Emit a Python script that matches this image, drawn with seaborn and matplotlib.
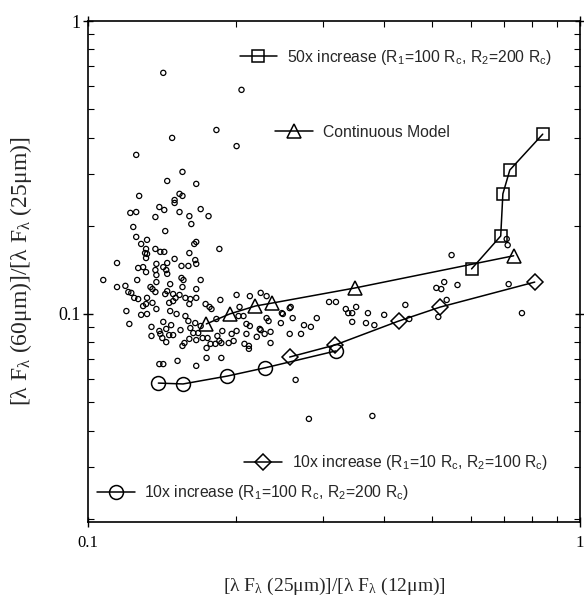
import numpy as np
import matplotlib
matplotlib.use("Agg")
from matplotlib import pyplot as plt
from matplotlib.lines import Line2D
from matplotlib.legend import Legend
from matplotlib.ticker import FixedLocator, LogLocator, NullFormatter, FuncFormatter
import seaborn as sns

sns.set_style("ticks")
plt.rcParams["font.family"] = ["Liberation Serif", "DejaVu Serif"]
plt.rcParams["mathtext.default"] = "regular"

# model tracks (linear colour ratios)
cont_x = [0.174, 0.194, 0.219, 0.237, 0.349, 0.733]
cont_y = [0.0925, 0.100, 0.1065, 0.109, 0.1227, 0.158]
sq_x = [0.602, 0.690, 0.697, 0.720, 0.840]
sq_y = [0.1425, 0.1846, 0.257, 0.310, 0.411]
dia_x = [0.257, 0.318, 0.428, 0.520, 0.809]
dia_y = [0.0713, 0.0784, 0.0946, 0.1056, 0.1285]
circ_x = [0.139, 0.156, 0.192, 0.229, 0.319]
circ_y = [0.0581, 0.0577, 0.0614, 0.0655, 0.0748]

# observed sample, log10 of the two colour ratios
obs_logx = [
    -0.847, -0.688, -0.739, -0.829, -0.698, -0.902, -0.808, -0.839, -0.780, -0.896,
    -0.814, -0.808, -0.824, -0.914, -0.902, -0.855, -0.845, -0.863, -0.814, -0.794,
    -0.771, -0.755, -0.790, -0.908, -0.843, -0.902, -0.880, -0.892, -0.780, -0.784,
    -0.882, -0.863, -0.853, -0.845, -0.884, -0.880, -0.794, -0.882, -0.824, -0.782,
    -0.733, -0.941, -0.861, -0.839, -0.780, -0.810, -0.796, -0.888, -0.898, -0.847,
    -0.863, -0.841, -0.882, -0.839, -0.861, -0.969, -0.900, -0.810, -0.806, -0.771,
    -0.861, -0.833, -0.941, -0.924, -0.873, -0.808, -0.780, -0.918, -0.912, -0.869,
    -0.863, -0.839, -0.827, -0.814, -0.906, -0.898, -0.880, -0.843, -0.822, -0.802,
    -0.792, -0.780, -0.698, -0.671, -0.649, -0.637, -0.731, -0.888, -0.882, -0.869,
    -0.835, -0.827, -0.794, -0.761, -0.753, -0.922, -0.892, -0.880, -0.861, -0.833,
    -0.820, -0.802, -0.796, -0.782, -0.847, -0.916, -0.871, -0.841, -0.831, -0.855,
    -0.871, -0.853, -0.835, -0.827, -0.849, -0.841, -0.812, -0.792, -0.786, -0.776,
    -0.767, -0.794, -0.804, -0.808, -0.780, -0.759, -0.751, -0.749, -0.692, -0.739,
    -0.694, -0.684, -0.637, -0.633, -0.604, -0.608, -0.584, -0.535, -0.561, -0.547,
    -0.678, -0.671, -0.698, -0.708, -0.727, -0.737, -0.757, -0.741, -0.733, -0.704,
    -0.678, -0.657, -0.649, -0.641, -0.629, -0.629, -0.682, -0.673, -0.673, -0.590,
    -0.567, -0.588, -0.510, -0.496, -0.476, -0.471, -0.463, -0.455, -0.431, -0.463,
    -0.435, -0.418, -0.398, -0.355, -0.347, -0.606, -0.590, -0.714, -0.729, -0.771,
    -0.651, -0.759, -0.855, -0.847, -0.818, -0.780, -0.729, -0.578, -0.551, -0.422,
    -0.276, -0.292, -0.282, -0.249, -0.261, -0.271, -0.288, -0.145, -0.118, -0.149,
    -0.147, -0.824,
]
obs_logy = [
    -0.177, -0.235, -0.372, -0.399, -0.427, -0.457, -0.515, -0.546, -0.556, -0.597,
    -0.590, -0.597, -0.611, -0.655, -0.652, -0.635, -0.645, -0.669, -0.652, -0.666,
    -0.642, -0.666, -0.693, -0.703, -0.717, -0.737, -0.747, -0.761, -0.754, -0.761,
    -0.778, -0.778, -0.788, -0.788, -0.792, -0.795, -0.792, -0.809, -0.812, -0.816,
    -0.778, -0.826, -0.829, -0.826, -0.829, -0.836, -0.836, -0.840, -0.843, -0.840,
    -0.850, -0.850, -0.857, -0.863, -0.867, -0.884, -0.884, -0.877, -0.884, -0.884,
    -0.891, -0.898, -0.908, -0.904, -0.908, -0.908, -0.915, -0.925, -0.928, -0.915,
    -0.925, -0.922, -0.932, -0.935, -0.945, -0.949, -0.945, -0.932, -0.945, -0.945,
    -0.949, -0.945, -0.935, -0.939, -0.928, -0.939, -0.952, -0.973, -0.966, -0.962,
    -0.962, -0.956, -0.966, -0.966, -0.976, -0.990, -1.003, -1.000, -0.983, -0.990,
    -1.000, -1.007, -1.024, -1.031, -1.027, -1.034, -1.044, -1.051, -1.038, -1.058,
    -1.075, -1.068, -1.072, -1.072, -1.082, -1.096, -1.055, -1.048, -1.065, -1.065,
    -1.082, -1.085, -1.099, -1.109, -1.089, -1.116, -1.102, -0.983, -0.976, -1.017,
    -1.007, -1.007, -1.014, -1.024, -1.000, -1.031, -1.014, -1.014, -1.038, -1.044,
    -1.034, -1.041, -1.058, -1.068, -1.058, -1.075, -1.082, -1.102, -1.092, -1.092,
    -1.068, -1.078, -1.055, -1.068, -1.061, -1.099, -1.102, -1.109, -1.119, -1.068,
    -1.068, -0.976, -0.959, -0.959, -0.983, -0.997, -0.997, -0.976, -0.997, -1.027,
    -1.031, -1.038, -1.003, -0.969, -1.017, -0.997, -0.980, -1.099, -1.099, -1.041,
    -1.051, -1.150, -1.171, -1.171, -1.160, -1.177, -1.150, -1.225, -1.358, -1.348,
    -0.891, -0.911, -0.915, -0.901, -0.799, -0.952, -1.010, -0.898, -0.997, -0.744,
    -0.765, -0.621,
]

legend_labels = [
    "50x increase (R$_1$=100 R$_c$, R$_2$=200 R$_c$)",
    "Continuous Model",
    "10x increase (R$_1$=10 R$_c$, R$_2$=100 R$_c$)",
    "10x increase (R$_1$=100 R$_c$, R$_2$=200 R$_c$)",
]

fig = plt.figure(figsize=(5.84, 5.97), dpi=100)
ax = fig.add_axes([88 / 584, 75 / 597, 492 / 584, 501 / 597])

sns.scatterplot(
    x=10 ** np.array(obs_logx),
    y=10 ** np.array(obs_logy),
    marker="o",
    s=14,
    facecolor="none",
    edgecolor="black",
    linewidth=0.9,
    ax=ax,
    zorder=2,
)

tracks = [
    (sq_x, sq_y, "s", 9),
    (cont_x, cont_y, "^", 10),
    (dia_x, dia_y, "D", 8),
    (circ_x, circ_y, "o", 10),
]
style = dict(color="black", lw=1.1, mfc="none", mec="black", mew=1.1)
for xs, ys, mk, ms in tracks:
    sns.lineplot(x=xs, y=ys, sort=False, estimator=None, marker=mk,
                 markersize=ms, ax=ax, zorder=3, **style)

# one legend per entry, placed where the original puts them
legend_pos = [(0.308, 0.928), (0.381, 0.778), (0.318, 0.118), (0.018, 0.058)]
for (xs, ys, mk, ms), label, pos in zip(tracks, legend_labels, legend_pos):
    h = Line2D([], [], marker=mk, markersize=ms, **style)
    leg = Legend(ax, [h], [label], loc="center left",
                 bbox_to_anchor=pos, frameon=False, borderpad=0,
                 borderaxespad=0, handlelength=2.4, handletextpad=0.6,
                 prop={"family": "Liberation Sans", "size": 11.3})
    ax.add_artist(leg)

ax.set_xscale("log")
ax.set_yscale("log")
ax.set_xlim(0.1, 1)
ax.set_ylim(0.0195, 1)
fmt = FuncFormatter(lambda v, p: f"{v:g}")
for axis in (ax.xaxis, ax.yaxis):
    axis.set_major_locator(FixedLocator([0.1, 1]))
    axis.set_major_formatter(fmt)
    axis.set_minor_locator(LogLocator(base=10, subs=np.arange(2, 10)))
    axis.set_minor_formatter(NullFormatter())

ax.tick_params(which="both", top=True, right=True, colors="black")
ax.tick_params(which="major", direction="inout", length=7, width=1)
ax.tick_params(which="minor", direction="in", length=4, width=0.8)
ax.tick_params(axis="x", which="major", pad=6, labelsize=12)
ax.tick_params(axis="y", which="major", pad=2, labelsize=13)
for sp in ax.spines.values():
    sp.set_linewidth(1.2)
    sp.set_color("black")

ax.set_xlabel("[λ F$_{λ}$ (25μm)]/[λ F$_{λ}$ (12μm)]", fontsize=14, labelpad=18)
ax.set_ylabel("[λ F$_{λ}$ (60μm)]/[λ F$_{λ}$ (25μm)]", fontsize=17, labelpad=17)

plt.savefig("out.png", dpi=100)
plt.close()
